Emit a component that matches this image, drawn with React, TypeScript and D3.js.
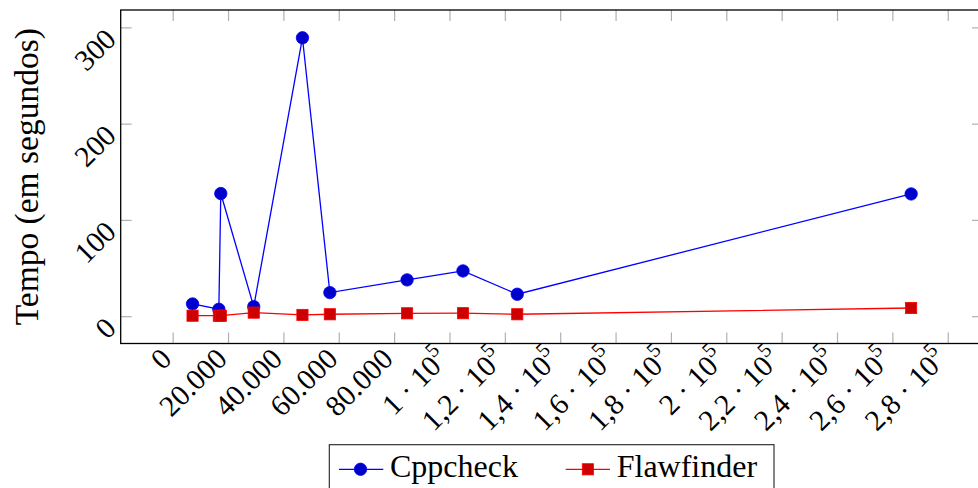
import {useEffect, useRef} from "react";
import * as d3 from "d3";

// Tamanho de cada projeto (eixo x) e tempo de análise em segundos (eixo y)
const sizes = [7000, 16500, 17200, 29100, 46700, 56600, 84500, 104700, 124300, 266600];
const cppcheck = [13.2, 7.7, 127.9, 10.4, 289.7, 25.0, 38.2, 47.5, 23.3, 127.5];
const flawfinder = [1.0, 1.0, 1.0, 4.2, 1.8, 2.5, 3.5, 3.6, 2.5, 9.0];

const xTicks = [0, 20000, 40000, 60000, 80000, 100000, 120000, 140000, 160000, 180000, 200000, 220000, 240000, 260000, 280000];
const xTickLabels = ["0", "20.000", "40.000", "60.000", "80.000", "1 · 10^5", "1,2 · 10^5", "1,4 · 10^5", "1,6 · 10^5",
    "1,8 · 10^5", "2 · 10^5", "2,2 · 10^5", "2,4 · 10^5", "2,6 · 10^5", "2,8 · 10^5"];
const yTicks = [0, 100, 200, 300];
const yTickLabels = ["0", "100", "200", "300"];

const seriesNames = ["Cppcheck", "Flawfinder"];

const width = 978, height = 488;
const left = 120.7, right = 983, top = 10, bottom = 343.5;
const font = "Liberation Serif, DejaVu Serif, serif";

function App() {
    const ref = useRef(null);

    useEffect(() => {
        const svg = d3.select(ref.current);
        svg.selectAll("*").remove();

        // pgfplots-like enlargement of 10% on each side
        const [x0, x1] = d3.extent(sizes);
        const ally = cppcheck.concat(flawfinder);
        const [y0, y1] = d3.extent(ally);
        const x = d3.scaleLinear()
            .domain([x0 - 0.1 * (x1 - x0), x1 + 0.1 * (x1 - x0)])
            .range([left, right]);
        const y = d3.scaleLinear()
            .domain([y0 - 0.1 * (y1 - y0), y1 + 0.1 * (y1 - y0)])
            .range([bottom, top]);

        const tickLen = 11;
        const tickColor = "#b0b0b0";

        // tick marks on all four sides, pointing inwards
        const ticks = svg.append("g").attr("stroke", tickColor).attr("stroke-width", 1.2);
        xTicks.forEach(t => {
            ticks.append("line").attr("x1", x(t)).attr("x2", x(t)).attr("y1", bottom).attr("y2", bottom - tickLen);
            ticks.append("line").attr("x1", x(t)).attr("x2", x(t)).attr("y1", top).attr("y2", top + tickLen);
        });
        yTicks.forEach(t => {
            ticks.append("line").attr("x1", left).attr("x2", left + tickLen).attr("y1", y(t)).attr("y2", y(t));
            ticks.append("line").attr("x1", right).attr("x2", right - tickLen).attr("y1", y(t)).attr("y2", y(t));
        });

        // series: lines then markers
        const line = d3.line<number>()
            .x((d, i) => x(sizes[i]))
            .y(d => y(d));

        svg.append("path")
            .datum(cppcheck)
            .attr("d", line)
            .attr("fill", "none")
            .attr("stroke", "#0000ff")
            .attr("stroke-width", 1.3);
        svg.append("g")
            .selectAll("circle")
            .data(cppcheck)
            .join("circle")
            .attr("cx", (d, i) => x(sizes[i]))
            .attr("cy", d => y(d))
            .attr("r", 6.2)
            .attr("fill", "#0000cc")
            .attr("stroke", "#0000ff")
            .attr("stroke-width", 0.8);

        svg.append("path")
            .datum(flawfinder)
            .attr("d", line)
            .attr("fill", "none")
            .attr("stroke", "#ff0000")
            .attr("stroke-width", 1.3);
        svg.append("g")
            .selectAll("rect")
            .data(flawfinder)
            .join("rect")
            .attr("x", (d, i) => x(sizes[i]) - 5.6)
            .attr("y", d => y(d) - 5.6)
            .attr("width", 11.2)
            .attr("height", 11.2)
            .attr("fill", "#cc0000")
            .attr("stroke", "#ff0000")
            .attr("stroke-width", 0.8);

        // frame
        svg.append("rect")
            .attr("x", left).attr("y", top)
            .attr("width", right - left).attr("height", bottom - top)
            .attr("fill", "none")
            .attr("stroke", "black")
            .attr("stroke-width", 1.3);

        // x tick labels, rotated 45 degrees
        const xl = svg.append("g").attr("font-family", font).attr("font-size", 29.5);
        xTicks.forEach((t, i) => {
            const parts = xTickLabels[i].split("^");
            const txt = xl.append("text")
                .attr("transform", `translate(${x(t) - 7},${bottom + 10}) rotate(-45)`)
                .attr("text-anchor", "end")
                .attr("dominant-baseline", "central");
            txt.append("tspan").text(parts[0]);
            if (parts[1]) {
                txt.append("tspan")
                    .attr("dy", "-0.5em")
                    .attr("font-size", "0.7em")
                    .text(parts[1]);
            }
        });

        // y tick labels, rotated 45 degrees
        const yl = svg.append("g").attr("font-family", font).attr("font-size", 29.5);
        yTicks.forEach((t, i) => {
            yl.append("text")
                .attr("transform", `translate(${left - 10},${y(t) + 6}) rotate(-45)`)
                .attr("text-anchor", "end")
                .attr("dominant-baseline", "central")
                .text(yTickLabels[i]);
        });

        // y axis label
        svg.append("text")
            .attr("transform", `translate(38,${(top + bottom) / 2}) rotate(-90)`)
            .attr("text-anchor", "middle")
            .attr("font-family", font)
            .attr("font-size", 33.5)
            .text("Tempo (em segundos)");

        // legend
        const lg = svg.append("g");
        lg.append("rect")
            .attr("x", 329.3).attr("y", 444.7)
            .attr("width", 774 - 329.3).attr("height", 60)
            .attr("fill", "white")
            .attr("stroke", "#222")
            .attr("stroke-width", 1.1);
        const legendX = [339, 565.7];
        const ly = 469.3;
        seriesNames.forEach((name, i) => {
            const lx = legendX[i];
            const color = i === 0 ? "#0000ff" : "#ff0000";
            lg.append("line")
                .attr("x1", lx).attr("x2", lx + 44.3)
                .attr("y1", ly).attr("y2", ly)
                .attr("stroke", color).attr("stroke-width", 1.3);
            if (i === 0) {
                lg.append("circle").attr("cx", lx + 21.5).attr("cy", ly).attr("r", 6.2)
                    .attr("fill", "#0000cc").attr("stroke", color).attr("stroke-width", 0.8);
            } else {
                lg.append("rect").attr("x", lx + 22.2 - 5.6).attr("y", ly - 5.6)
                    .attr("width", 11.2).attr("height", 11.2)
                    .attr("fill", "#cc0000").attr("stroke", color).attr("stroke-width", 0.8);
            }
            lg.append("text")
                .attr("x", lx + 51)
                .attr("y", 477)
                .attr("font-family", font)
                .attr("font-size", 32)
                .text(name);
        });
    }, []);

    return (
        <svg ref={ref} width={width} height={height}
             style={{position: "absolute", left: 0, top: 0, background: "white"}} />
    );
}

export default App;
